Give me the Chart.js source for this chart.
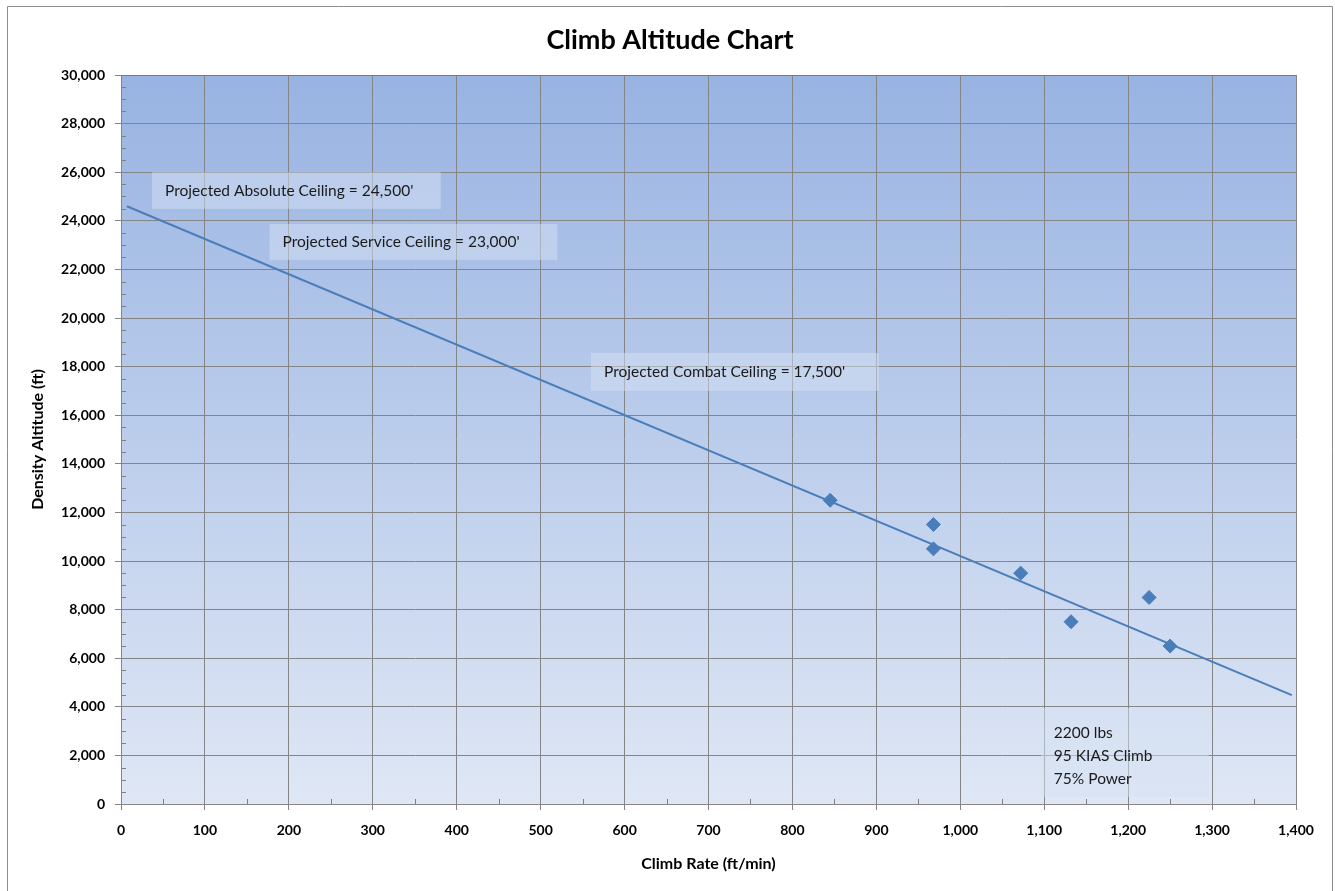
<!DOCTYPE html>
<html>
<head>
<meta charset="utf-8">
<title>Climb Altitude Chart</title>
<script src="https://cdn.jsdelivr.net/npm/chart.js@4/dist/chart.umd.min.js"></script>
<style>
  html, body { margin: 0; padding: 0; background: #ffffff; }
  #wrap { width: 1335px; height: 891px; position: relative; }
</style>
</head>
<body>
<div id="wrap"><canvas id="chart" width="1335" height="891"></canvas></div>
<script>
// Measured climb rates (ft/min) and density altitudes (ft)
const climbRates = [845, 968, 968, 1072, 1132, 1225, 1250];
const densityAltitudes = [12500, 11500, 10500, 9500, 7500, 8500, 6500];

// Linear trend projected across the full climb-rate range
const trendRates = [7, 1395];
const trendAltitudes = [24600, 4480];

// Axis ranges
const xMin = 0, xMax = 1400, xStep = 100;
const yMin = 0, yMax = 30000, yStep = 2000;

// Note boxes: [xFrom, xTo, yTop, yBottom] in data units, with their text lines
const noteBoxes = [
  { x0: 37, x1: 381, y0: 26000, y1: 24490, lines: ["Projected Absolute Ceiling = 24,500'"] },
  { x0: 177, x1: 520, y0: 23870, y1: 22390, lines: ["Projected Service Ceiling = 23,000'"] },
  { x0: 560, x1: 903, y0: 18560, y1: 17000, lines: ["Projected Combat Ceiling = 17,500'"] },
  { x0: 1096, x1: 1296, y0: 3950, y1: 290, lines: ["2200 lbs", "95 KIAS Climb", "75% Power"] }
];

const FONT = "Lato, 'Open Sans', 'DejaVu Sans', sans-serif";
const fmt = v => v.toLocaleString('en-US');

const points = climbRates.map((x, i) => ({ x, y: densityAltitudes[i] }));
const trend = trendRates.map((x, i) => ({ x, y: trendAltitudes[i] }));

// Gradient plot background, outer frame and title
const backdrop = {
  id: 'backdrop',
  beforeDraw(chart) {
    const { ctx, chartArea: a } = chart;
    ctx.save();
    ctx.fillStyle = '#ffffff';
    ctx.fillRect(0, 0, chart.width, chart.height);
    ctx.strokeStyle = '#8c8c8c';
    ctx.lineWidth = 1;
    ctx.beginPath();
    ctx.moveTo(7.5, chart.height + 2);
    ctx.lineTo(7.5, 6.5);
    ctx.lineTo(1332.5, 6.5);
    ctx.lineTo(1332.5, chart.height + 2);
    ctx.stroke();
    const g = ctx.createLinearGradient(0, a.top, 0, a.bottom);
    g.addColorStop(0, 'rgb(152,179,226)');
    g.addColorStop(1, 'rgb(223,231,245)');
    ctx.fillStyle = g;
    ctx.fillRect(a.left, a.top, a.right - a.left, a.bottom - a.top);
    ctx.fillStyle = '#000000';
    ctx.font = "bold 27px " + FONT;
    ctx.textAlign = 'center';
    ctx.textBaseline = 'middle';
    ctx.fillText('Climb Altitude Chart', 670, 40);
    ctx.restore();
  },
  afterDraw(chart) {
    const { ctx } = chart;
    const xs = chart.scales.x, ys = chart.scales.y;
    ctx.save();
    ctx.strokeStyle = '#808080';
    ctx.lineWidth = 1;
    ctx.beginPath();
    // minor ticks along the axes, pointing into the plot
    for (let v = yMin; v <= yMax; v += yStep / 4) {
      if (v % yStep === 0) continue;
      const py = Math.round(ys.getPixelForValue(v)) + 0.5;
      ctx.moveTo(xs.left, py);
      ctx.lineTo(xs.left + 5, py);
    }
    for (let v = xMin; v <= xMax; v += xStep / 2) {
      if (v % xStep === 0) continue;
      const px = Math.round(xs.getPixelForValue(v)) + 0.5;
      ctx.moveTo(px, ys.bottom);
      ctx.lineTo(px, ys.bottom - 5);
    }
    ctx.stroke();
    // plot frame (top edge slightly darker)
    ctx.strokeStyle = '#7a7a7a';
    ctx.beginPath();
    ctx.moveTo(xs.left, Math.round(ys.top) + 0.5);
    ctx.lineTo(xs.right, Math.round(ys.top) + 0.5);
    ctx.stroke();
    ctx.restore();
  }
};

// Semi-transparent text boxes on top of the plot
const notes = {
  id: 'notes',
  afterDatasetsDraw(chart) {
    const { ctx } = chart;
    const xs = chart.scales.x, ys = chart.scales.y;
    ctx.save();
    ctx.font = "15.5px " + FONT;
    ctx.textBaseline = 'middle';
    ctx.textAlign = 'left';
    noteBoxes.forEach(b => {
      const l = xs.getPixelForValue(b.x0), r = xs.getPixelForValue(b.x1);
      const t = ys.getPixelForValue(b.y0), btm = ys.getPixelForValue(b.y1);
      ctx.fillStyle = 'rgba(214,225,243,0.5)';
      ctx.fillRect(l, t, r - l, btm - t);
      ctx.fillStyle = '#1a1a1a';
      if (b.lines.length === 1) {
        ctx.fillText(b.lines[0], l + 13, (t + btm) / 2);
      } else {
        b.lines.forEach((s, i) => ctx.fillText(s, l + 13, t + 25 + i * 23));
      }
    });
    ctx.restore();
  }
};

new Chart(document.getElementById('chart'), {
  type: 'scatter',
  data: {
    datasets: [
      {
        label: 'Trend',
        data: trend,
        showLine: true,
        borderColor: '#4a7ebb',
        borderWidth: 2,
        pointRadius: 0,
        fill: false,
        order: 2
      },
      {
        label: 'Climb tests',
        data: points,
        pointStyle: 'rectRot',
        pointRadius: 7,
        pointBackgroundColor: '#4a7ebb',
        pointBorderColor: '#4a7ebb',
        pointBorderWidth: 1,
        order: 1
      }
    ]
  },
  options: {
    responsive: false,
    animation: false,
    events: [],
    layout: { padding: { left: 20, right: 39, top: 75, bottom: 10 } },
    plugins: {
      legend: { display: false },
      tooltip: { enabled: false },
      title: { display: false }
    },
    scales: {
      x: {
        type: 'linear',
        min: xMin, max: xMax,
        ticks: {
          stepSize: xStep,
          color: '#000000',
          padding: 12,
          font: { family: FONT, size: 14, weight: 'bold' },
          callback: v => fmt(v)
        },
        grid: { color: '#858585', lineWidth: 1, tickLength: 6, drawTicks: true },
        border: { color: '#858585', width: 1 },
        title: {
          display: true,
          text: 'Climb Rate (ft/min)',
          color: '#000000',
          font: { family: FONT, size: 16, weight: 'bold' },
          padding: { top: 0, bottom: 8 }
        },
        afterFit(scale) { scale.height = 891 - 804 - 10; }
      },
      y: {
        type: 'linear',
        min: yMin, max: yMax,
        ticks: {
          stepSize: yStep,
          color: '#000000',
          padding: 10,
          font: { family: FONT, size: 14, weight: 'bold' },
          callback: v => fmt(v)
        },
        grid: { color: '#858585', lineWidth: 1, tickLength: 6, drawTicks: true },
        border: { color: '#858585', width: 1 },
        title: {
          display: true,
          text: 'Density Altitude (ft)',
          color: '#000000',
          font: { family: FONT, size: 16, weight: 'bold' },
          padding: { top: 8, bottom: 0 }
        },
        afterFit(scale) { scale.width = 121 - 20; }
      }
    }
  },
  plugins: [backdrop, notes]
});
</script>
</body>
</html>
